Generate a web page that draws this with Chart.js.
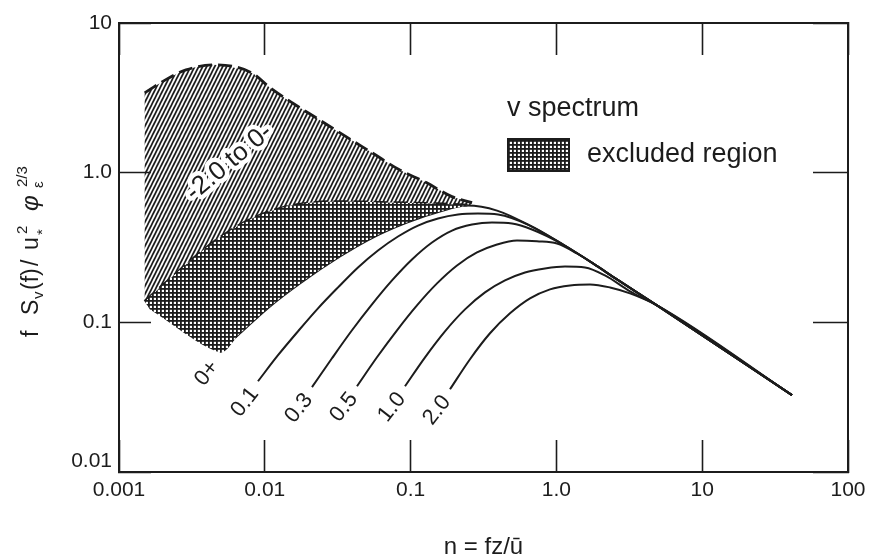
<!DOCTYPE html>
<html>
<head>
<meta charset="utf-8">
<title>v spectrum</title>
<script src="https://cdn.jsdelivr.net/npm/chart.js@4.4.1/dist/chart.umd.min.js"></script>
<style>
  html, body { margin: 0; padding: 0; background: #fff; }
  canvas { display: block; }
</style>
</head>
<body>
<canvas id="spectrum" width="869" height="559"></canvas>
<script>
// --- Data (n = fz/u, S = f Sv(f) / u*^2 phi^(2/3)) ---

// dashed upper bound of the unstable range, z/L = -2.0
const nMinus20 = [0.0015, 0.00197, 0.00288, 0.00462, 0.00816, 0.0107, 0.0154, 0.0236, 0.0361, 0.0543, 0.0832, 0.128, 0.192, 0.264];
const sMinus20 = [3.41, 4.04, 4.86, 5.25, 4.64, 3.74, 2.93, 2.26, 1.74, 1.36, 1.05, 0.858, 0.692, 0.631];

// dashed lower bound of the unstable range, z/L = 0-
const nZeroMinus = [0.0015, 0.00234, 0.00322, 0.00493, 0.00791, 0.0133, 0.0214, 0.0366, 0.0689, 0.152, 0.255];
const sZeroMinus = [0.138, 0.203, 0.267, 0.369, 0.486, 0.585, 0.631, 0.641, 0.631, 0.62, 0.605];

// stable curves (all run into the same -2/3 tail)
const nZeroPlus = [0.00493, 0.00676, 0.01086, 0.01743, 0.0328, 0.0552, 0.0945, 0.159, 0.2436, 0.3915, 0.659, 1.11, 1.782, 2.604, 4.898, 41.3];
const sZeroPlus = [0.0631, 0.0845, 0.1278, 0.182, 0.2754, 0.3687, 0.4642, 0.5495, 0.6026, 0.558, 0.4431, 0.3311, 0.2474, 0.1935, 0.1298, 0.0326];

const n01 = [0.00898, 0.01232, 0.01689, 0.02317, 0.03178, 0.04357, 0.05974, 0.08195, 0.1124, 0.1542, 0.2114, 0.2899, 0.3978, 0.659, 1.11, 1.782, 2.604, 4.898, 41.3];
const s01 = [0.0404, 0.0603, 0.0871, 0.124, 0.1711, 0.2326, 0.302, 0.3744, 0.4431, 0.4935, 0.5248, 0.5329, 0.5248, 0.4431, 0.3311, 0.2474, 0.1935, 0.1298, 0.0326];

const n03 = [0.02107, 0.02889, 0.03963, 0.05435, 0.07456, 0.1022, 0.1402, 0.1923, 0.2637, 0.3616, 0.496, 0.6802, 1.11, 1.782, 2.604, 4.898, 41.3];
const s03 = [0.0369, 0.0575, 0.0885, 0.1318, 0.1905, 0.263, 0.3415, 0.4105, 0.4501, 0.4642, 0.4571, 0.4169, 0.3311, 0.2474, 0.1935, 0.1298, 0.0326];

const n05 = [0.04289, 0.0588, 0.08066, 0.1106, 0.1518, 0.2081, 0.2853, 0.3915, 0.5367, 0.7359, 1.0095, 1.385, 1.782, 2.604, 4.898, 41.3];
const s05 = [0.0374, 0.0584, 0.0885, 0.1298, 0.182, 0.2399, 0.2929, 0.3311, 0.3521, 0.348, 0.3363, 0.2884, 0.2474, 0.1935, 0.1298, 0.0326];

const n10 = [0.09153, 0.1256, 0.1721, 0.2361, 0.3238, 0.4441, 0.609, 0.8351, 1.1455, 1.5715, 2.154, 3.198, 4.898, 41.3];
const s10 = [0.0374, 0.0584, 0.0871, 0.1221, 0.1585, 0.1905, 0.2154, 0.2291, 0.2362, 0.2326, 0.2057, 0.161, 0.1298, 0.0326];

const n20 = [0.1863, 0.2555, 0.3504, 0.4806, 0.659, 0.9038, 1.2397, 1.7006, 2.332, 3.198, 4.898, 41.3];
const s20 = [0.0357, 0.0567, 0.0845, 0.1148, 0.1445, 0.166, 0.1765, 0.1792, 0.1711, 0.1561, 0.1298, 0.0326];

// low-frequency corner of the excluded region
const nCutoff = [0.00163];
const sCutoff = [0.122];

const xTickValues = [0.001, 0.01, 0.1, 1, 10, 100];
const xTickLabels = ['0.001', '0.01', '0.1', '1.0', '10', '100'];
const yTickValues = [0.01, 0.1, 1, 10];
const yTickLabels = ['0.01', '0.1', '1.0', '10'];

const stableLabels = ['0+', '0.1', '0.3', '0.5', '1.0', '2.0'];
const unstableLabel = '-2.0 to 0-';

// --- Styling ---
const INK = '#1c1c1c';
const FAMILY = '"Liberation Sans", Arial, Helvetica, sans-serif';

const pts = (ns, ss) => ns.map((n, i) => ({ x: n, y: ss[i] }));

function makeHatch() {
  const c = document.createElement('canvas');
  c.width = 4; c.height = 8;
  const g = c.getContext('2d');
  g.strokeStyle = INK;
  g.lineWidth = 1.7;
  for (const dx of [-4, 0, 4]) {
    g.beginPath();
    g.moveTo(dx - 4, 16);
    g.lineTo(dx + 8, -8);
    g.stroke();
  }
  return g.createPattern(c, 'repeat');
}

function makeCross() {
  const c = document.createElement('canvas');
  c.width = 4; c.height = 4;
  const g = c.getContext('2d');
  g.fillStyle = '#fff';
  g.fillRect(0, 0, 4, 4);
  g.fillStyle = INK;
  g.fillRect(0, 0, 4, 1.8);
  g.fillRect(0, 0, 1.8, 4);
  return g.createPattern(c, 'repeat');
}

const hatch = makeHatch();
const cross = makeCross();

// --- Regions ---
const unstableArea = pts(nMinus20, sMinus20).concat(pts(nZeroMinus, sZeroMinus).reverse());
const lastMinus = nZeroMinus[nZeroMinus.length - 1];
const excludedArea = pts(nZeroMinus, sZeroMinus)
  .concat(pts(nZeroPlus, sZeroPlus).filter(p => p.x <= lastMinus).reverse())
  .concat(pts(nCutoff, sCutoff));

const stableCurves = [
  { n: nZeroPlus, s: sZeroPlus },
  { n: n01, s: s01 },
  { n: n03, s: s03 },
  { n: n05, s: s05 },
  { n: n10, s: s10 },
  { n: n20, s: s20 },
].map((c, i) => ({ ...c, label: stableLabels[i] }));

const base = { pointRadius: 0, pointHoverRadius: 0, borderColor: INK };
const smooth = { ...base, cubicInterpolationMode: 'monotone', fill: false };

const datasets = [
  { ...base, tension: 0.3, data: unstableArea, fill: 'shape', backgroundColor: hatch, borderWidth: 0 },
  { ...base, tension: 0.3, data: excludedArea, fill: 'shape', backgroundColor: cross, borderWidth: 0 },
  { ...smooth, data: pts(nMinus20, sMinus20), borderWidth: 2.8, borderDash: [14, 6] },
  { ...smooth, data: pts(nZeroMinus, sZeroMinus), borderWidth: 2.8, borderDash: [14, 6] },
  ...stableCurves.map(c => ({ ...smooth, data: pts(c.n, c.s), borderWidth: 2 })),
];

// --- Text drawn on the canvas ---
const yTitlePieces = [
  { t: 'f', at: 0 }, { t: 'S', at: 22 }, { t: 'v', at: 38, sub: true }, { t: '(f)', at: 47 },
  { t: '/', at: 71 }, { t: 'u', at: 87 }, { t: '*', at: 102, sub: true }, { t: '2', at: 103, sup: true },
  { t: 'φ', at: 126, greek: true }, { t: 'ε', at: 149, sub: true }, { t: '2/3', at: 150, sup: true },
];

const figureText = {
  id: 'figureText',
  afterDatasetsDraw(chart) {
    const { ctx, scales: { x, y } } = chart;
    ctx.save();
    ctx.fillStyle = INK;
    ctx.textAlign = 'center';
    ctx.textBaseline = 'middle';

    // curve labels, hung below the low-frequency end of each curve
    ctx.font = '22px ' + FAMILY;
    stableCurves.forEach(c => {
      const px = x.getPixelForValue(c.n[0]) - 13;
      const py = y.getPixelForValue(c.s[0]) + 21;
      ctx.save();
      ctx.translate(px, py);
      ctx.rotate(-52 * Math.PI / 180);
      ctx.fillText(c.label, 0, 0);
      ctx.restore();
    });

    // label inside the hatched band
    ctx.font = '26px ' + FAMILY;
    ctx.save();
    ctx.translate(x.getPixelForValue(0.0057), y.getPixelForValue(1.17));
    ctx.rotate(-40 * Math.PI / 180);
    ctx.lineJoin = 'round';
    ctx.lineWidth = 9;
    ctx.strokeStyle = '#fff';
    ctx.strokeText(unstableLabel, 0, 0);
    ctx.fillText(unstableLabel, 0, 0);
    ctx.restore();
    ctx.restore();
  },
  afterDraw(chart) {
    const { ctx } = chart;
    ctx.save();
    ctx.fillStyle = INK;
    ctx.textBaseline = 'alphabetic';
    ctx.textAlign = 'left';

    // legend
    ctx.font = '27px ' + FAMILY;
    ctx.fillText('v spectrum', 507, 116);
    ctx.fillStyle = cross;
    ctx.fillRect(508, 139, 61, 32);
    ctx.strokeStyle = INK;
    ctx.lineWidth = 2;
    ctx.strokeRect(508, 139, 61, 32);
    ctx.fillStyle = INK;
    ctx.fillText('excluded region', 587, 162);

    // y axis title
    ctx.translate(38, 337);
    ctx.rotate(-Math.PI / 2);
    yTitlePieces.forEach(p => {
      const small = p.sub || p.sup;
      ctx.font = (p.greek ? 'italic 24px ' : small ? '15px ' : '23px ') + FAMILY;
      const dy = p.sub ? (p.t === '*' ? 9 : 5) : p.sup ? -11 : 0;
      ctx.fillText(p.t, p.at, dy);
    });
    ctx.restore();
  },
};

// --- Axes ---
const tickFont = { size: 21, family: FAMILY, lineHeight: 1 };
const frame = { color: INK, width: 2 };
const inward = len => ({ drawOnChartArea: false, tickLength: -len, tickColor: INK, tickWidth: 1.6 });

// fixed box sizes, and no label overhang pushing the plot area in
const fixSize = (w, h) => s => {
  if (w !== null) s.width = w;
  if (h !== null) s.height = h;
  s.paddingLeft = s.paddingRight = s.paddingTop = s.paddingBottom = 0;
};

new Chart(document.getElementById('spectrum'), {
  type: 'line',
  data: { datasets },
  options: {
    responsive: false,
    animation: false,
    devicePixelRatio: 1,
    layout: { padding: { left: 0, right: 21, top: 23, bottom: 0 } },
    plugins: { legend: { display: false }, tooltip: { enabled: false } },
    scales: {
      x: {
        type: 'logarithmic', position: 'bottom', min: 0.001, max: 100,
        afterBuildTicks: s => { s.ticks = xTickValues.map(v => ({ value: v })); },
        afterFit: fixSize(null, 87),
        ticks: { callback: (v, i) => xTickLabels[i], font: tickFont, color: INK, padding: 40, maxRotation: 0, autoSkip: false },
        grid: inward(32),
        border: frame,
        title: { display: true, text: 'n = fz/ū', color: INK, font: { size: 24, family: FAMILY, lineHeight: 1 }, padding: { top: 0, bottom: 0 } },
      },
      y: {
        type: 'logarithmic', position: 'left', min: 0.01, max: 10,
        afterBuildTicks: s => { s.ticks = yTickValues.map(v => ({ value: v })); },
        afterFit: fixSize(119, null),
        ticks: {
          callback: (v, i) => i === 0 ? [yTickLabels[i], ''] : yTickLabels[i],
          font: tickFont, color: INK, padding: 39, autoSkip: false,
        },
        grid: inward(32),
        border: frame,
      },
      x2: {
        type: 'logarithmic', position: 'top', min: 0.001, max: 100,
        afterBuildTicks: s => { s.ticks = xTickValues.map(v => ({ value: v })); },
        afterFit: fixSize(null, 0),
        ticks: { display: false },
        grid: inward(32),
        border: frame,
      },
      y2: {
        type: 'logarithmic', position: 'right', min: 0.01, max: 10,
        afterBuildTicks: s => { s.ticks = yTickValues.map(v => ({ value: v })); },
        afterFit: fixSize(0, null),
        ticks: { display: false },
        grid: inward(35),
        border: frame,
      },
    },
  },
  plugins: [figureText],
});
</script>
</body>
</html>
